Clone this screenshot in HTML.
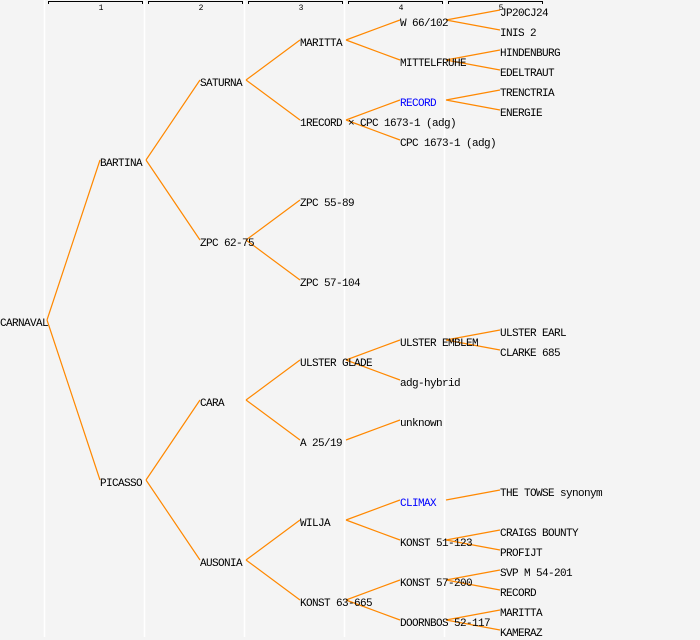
<!DOCTYPE html>
<html><head><style>
html,body{margin:0;padding:0;background:#f4f4f4;}
svg{display:block;}
text{font-family:"Liberation Mono",monospace;font-size:11px;letter-spacing:-0.6px;fill:#000;}
</style></head><body>
<svg width="700" height="640" xmlns="http://www.w3.org/2000/svg">
<rect width="700" height="640" fill="#f4f4f4"/>
<g stroke="#fff" stroke-width="1.5">
<line x1="44.5" y1="0" x2="44.5" y2="637"/>
<line x1="144.5" y1="0" x2="144.5" y2="637"/>
<line x1="244.5" y1="0" x2="244.5" y2="637"/>
<line x1="344.5" y1="0" x2="344.5" y2="637"/>
<line x1="444.5" y1="0" x2="444.5" y2="637"/>
</g>
<g stroke="#000" fill="none" stroke-width="1">
<path d="M48.5 4V1.5H142.5V4"/>
<path d="M148.5 4V1.5H242.5V4"/>
<path d="M248.5 4V1.5H342.5V4"/>
<path d="M348.5 4V1.5H442.5V4"/>
<path d="M448.5 4V1.5H542.5V4"/>
</g>
<g text-anchor="middle">
<text x="101" y="10" style="font-size:8px;letter-spacing:0">1</text>
<text x="201" y="10" style="font-size:8px;letter-spacing:0">2</text>
<text x="301" y="10" style="font-size:8px;letter-spacing:0">3</text>
<text x="401" y="10" style="font-size:8px;letter-spacing:0">4</text>
<text x="501" y="10" style="font-size:8px;letter-spacing:0">5</text>
</g>
<g stroke="#ff8800" stroke-width="1.2" fill="none">
<path d="M47 320L100 160M47 320L100 480"/>
<path d="M146 160L200 80M146 160L200 240M146 480L200 400M146 480L200 560"/>
<path d="M246 80L300 40M246 80L300 120M246 240L300 200M246 240L300 280M246 400L300 360M246 400L300 440M246 560L300 520M246 560L300 600"/>
<path d="M346 40L400 20M346 40L400 60M346 120L400 100M346 120L400 140M346 360L400 340M346 360L400 380M346 440L400 420M346 520L400 500M346 520L400 540M346 600L400 580M346 600L400 620"/>
<path d="M446 20L500 10M446 20L500 30M446 60L500 50M446 60L500 70M446 100L500 90M446 100L500 110M446 340L500 330M446 340L500 350M446 500L500 490M446 540L500 530M446 540L500 550M446 580L500 570M446 580L500 590M446 620L500 610M446 620L500 630"/>
</g>
<g>
<text x="0" y="326">CARNAVAL</text>
<text x="100" y="166">BARTINA</text>
<text x="100" y="486">PICASSO</text>
<text x="200" y="86">SATURNA</text>
<text x="200" y="246">ZPC 62-75</text>
<text x="200" y="406">CARA</text>
<text x="200" y="566">AUSONIA</text>
<text x="300" y="46">MARITTA</text>
<text x="300" y="126">1RECORD × CPC 1673-1 (adg)</text>
<text x="300" y="206">ZPC 55-89</text>
<text x="300" y="286">ZPC 57-104</text>
<text x="300" y="366">ULSTER GLADE</text>
<text x="300" y="446">A 25/19</text>
<text x="300" y="526">WILJA</text>
<text x="300" y="606">KONST 63-665</text>
<text x="400" y="26">W 66/102</text>
<text x="400" y="66">MITTELFRUHE</text>
<text x="400" y="106" style="fill:#0000ff">RECORD</text>
<text x="400" y="146">CPC 1673-1 (adg)</text>
<text x="400" y="346">ULSTER EMBLEM</text>
<text x="400" y="386">adg-hybrid</text>
<text x="400" y="426">unknown</text>
<text x="400" y="506" style="fill:#0000ff">CLIMAX</text>
<text x="400" y="546">KONST 51-123</text>
<text x="400" y="586">KONST 57-200</text>
<text x="400" y="626">DOORNBOS 52-117</text>
<text x="500" y="16">JP20CJ24</text>
<text x="500" y="36">INIS 2</text>
<text x="500" y="56">HINDENBURG</text>
<text x="500" y="76">EDELTRAUT</text>
<text x="500" y="96">TRENCTRIA</text>
<text x="500" y="116">ENERGIE</text>
<text x="500" y="336">ULSTER EARL</text>
<text x="500" y="356">CLARKE 685</text>
<text x="500" y="496">THE TOWSE synonym</text>
<text x="500" y="536">CRAIGS BOUNTY</text>
<text x="500" y="556">PROFIJT</text>
<text x="500" y="576">SVP M 54-201</text>
<text x="500" y="596">RECORD</text>
<text x="500" y="616">MARITTA</text>
<text x="500" y="636">KAMERAZ</text>
</g>
</svg>
</body></html>
